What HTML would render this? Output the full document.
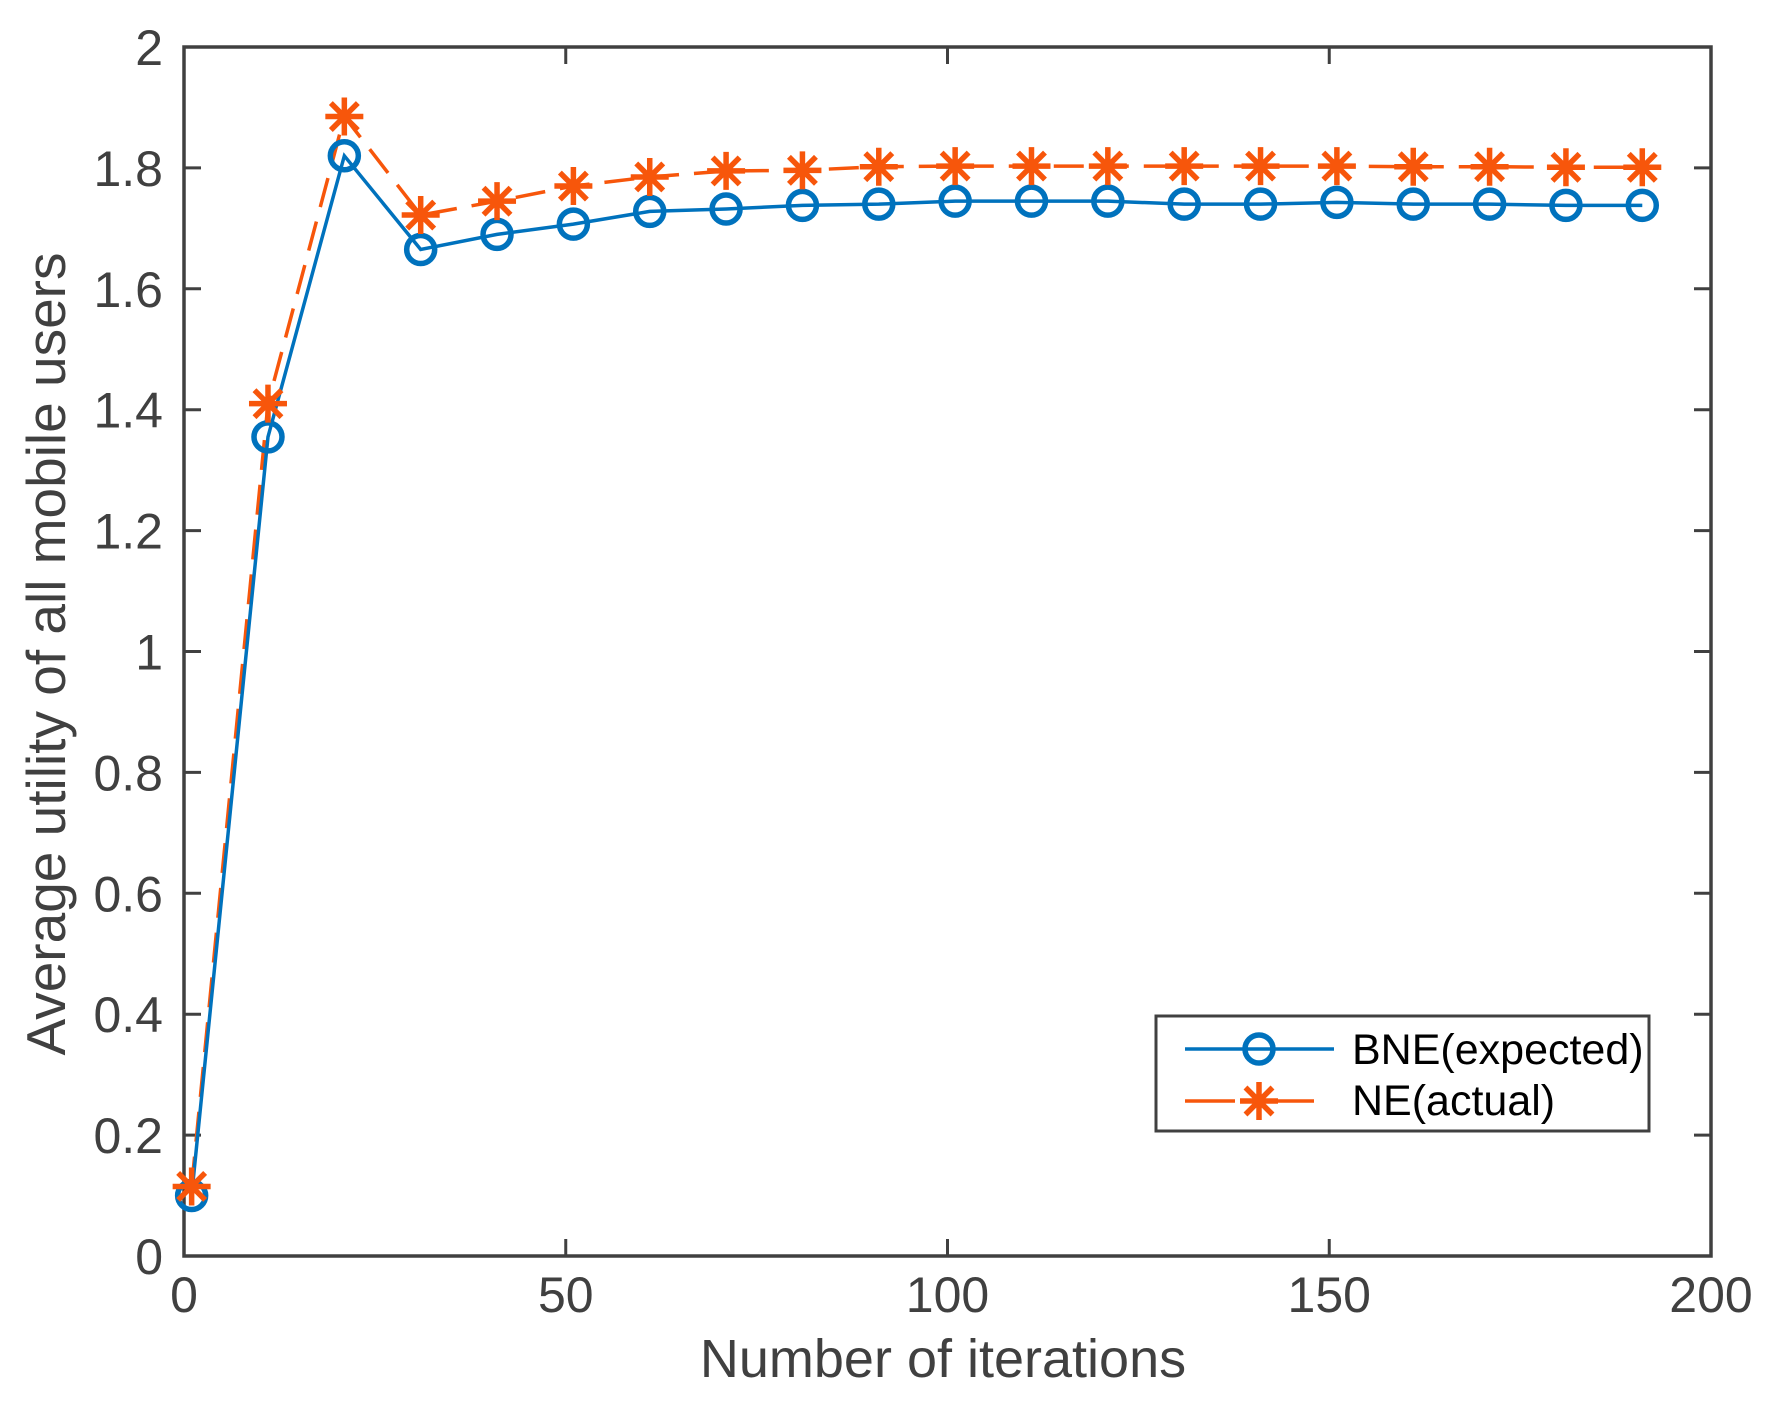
<!DOCTYPE html>
<html><head><meta charset="utf-8"><style>
html,body{margin:0;padding:0;background:#fff}
svg{display:block}
text{font-family:"Liberation Sans",Arial,sans-serif}
</style></head><body>
<svg width="1773" height="1410" viewBox="0 0 1773 1410" xmlns="http://www.w3.org/2000/svg">
<defs>
<g id="star"><path d="M-19 0H19M0 -19V19M-13.5 -13.5L13.5 13.5M-13.5 13.5L13.5 -13.5" stroke="#f7560b" stroke-width="5.5" fill="none"/></g>
<g id="circ"><circle r="14" fill="none" stroke="#0072bd" stroke-width="5.5"/></g>
</defs>
<g id="plot"></g>
<script>
(function(){
var L=184,R=1711,T=47,B=1256;
function X(v){return L+(R-L)*v/200}
function Y(v){return B-(B-T)*v/2}
var ns="http://www.w3.org/2000/svg",g=document.getElementById('plot');
function el(n,a,t){var e=document.createElementNS(ns,n);for(var k in a)e.setAttribute(k,a[k]);if(t!=null)e.textContent=t;g.appendChild(e);return e}
var xs=[],b=[0.1,1.355,1.82,1.665,1.69,1.707,1.728,1.732,1.738,1.74,1.745,1.745,1.745,1.74,1.74,1.743,1.74,1.74,1.738,1.738],
n=[0.115,1.41,1.885,1.722,1.745,1.77,1.785,1.795,1.796,1.802,1.803,1.803,1.803,1.803,1.803,1.803,1.802,1.802,1.801,1.801];
for(var i=0;i<20;i++)xs.push(1+10*i);
var s='';
for(var v=0;v<=200;v+=50){var x=X(v);s+='M'+x+' '+B+'V'+(B-17)+'M'+x+' '+T+'V'+(T+17);
el('text',{x:x,y:1312,'text-anchor':'middle','font-size':'50',fill:'#404040'},String(v));}
for(var k=0;k<=10;k++){var yv=k*0.2,y=Y(yv);s+='M'+L+' '+y+'H'+(L+17)+'M'+R+' '+y+'H'+(R-17);
var lab=(k==0)?'0':(k==5?'1':(k==10?'2':yv.toFixed(1)));
el('text',{x:163,y:y+18,'text-anchor':'end','font-size':'50',fill:'#404040'},lab);}
el('path',{d:s,stroke:'#404040','stroke-width':3,fill:'none'});
el('rect',{x:L,y:T,width:R-L,height:B-T,fill:'none',stroke:'#404040','stroke-width':3.5});
var pb='',pn='';
for(i=0;i<20;i++){pb+=(i?'L':'M')+X(xs[i])+' '+Y(b[i]);pn+=(i?'L':'M')+X(xs[i])+' '+Y(n[i]);}
el('path',{d:pn,stroke:'#f7560b','stroke-width':3.5,fill:'none','stroke-dasharray':'30 15'});
el('path',{d:pb,stroke:'#0072bd','stroke-width':3.5,fill:'none'});
for(i=0;i<20;i++){el('use',{href:'#circ',x:X(xs[i]),y:Y(b[i])});}
for(i=0;i<20;i++){el('use',{href:'#star',x:X(xs[i]),y:Y(n[i])});}
el('text',{x:943,y:1377,'text-anchor':'middle','font-size':'54',fill:'#404040'},'Number of iterations');
el('text',{x:0,y:0,'text-anchor':'middle','font-size':'55',fill:'#404040',transform:'translate(65,654) rotate(-90)'},'Average utility of all mobile users');
el('rect',{x:1156,y:1016,width:493,height:115,fill:'#fff',stroke:'#404040','stroke-width':3});
el('path',{d:'M1185 1049H1334',stroke:'#0072bd','stroke-width':3.5,fill:'none'});
el('use',{href:'#circ',x:1259,y:1049});
el('path',{d:'M1185 1101H1235M1243 1101H1314',stroke:'#f7560b','stroke-width':3.5,fill:'none'});
el('use',{href:'#star',x:1259,y:1101});
el('text',{x:1352,y:1064,'font-size':'43',fill:'#000'},'BNE(expected)');
el('text',{x:1352,y:1115,'font-size':'43',fill:'#000'},'NE(actual)');
})();
</script>
</svg>
</body></html>
